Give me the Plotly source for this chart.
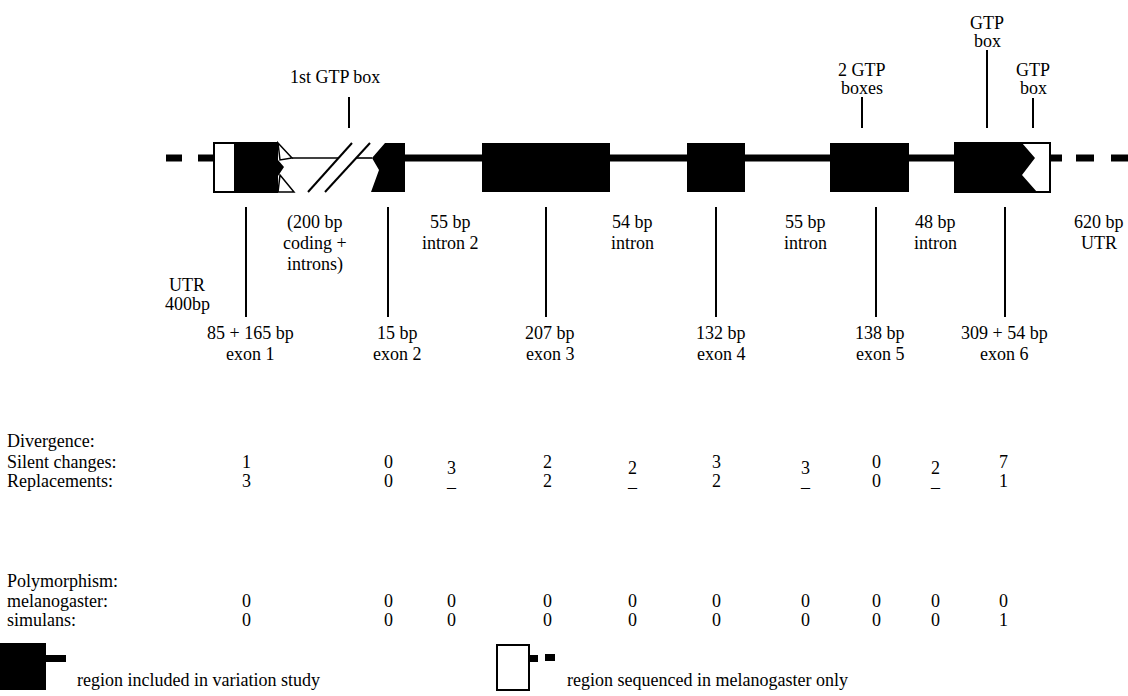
import plotly.graph_objects as go

W, H = 1128, 696
FONT = "Liberation Serif"
FS = 18

# ---------------- data ----------------
exon_labels = ["85 + 165 bp<br>exon 1", "15 bp<br>exon 2", "207 bp<br>exon 3",
               "132 bp<br>exon 4", "138 bp<br>exon 5", "309 + 54 bp<br>exon 6"]
intron_labels = ["(200 bp<br>coding +<br>introns)", "55 bp<br>intron 2", "54 bp<br>intron",
                 "55 bp<br>intron", "48 bp<br>intron", "620 bp<br>UTR"]
utr5_label = "UTR<br>400bp"
gtp_labels = ["1st GTP box", "2 GTP<br>boxes", "GTP<br>box", "GTP<br>box"]

# columns: exon1, exon2, intron2, exon3, intron3, exon4, intron4, exon5, intron5, exon6
col_is_intron = [False, False, True, False, True, False, True, False, True, False]
silent = ["1", "0", "3", "2", "2", "3", "3", "0", "2", "7"]
replacements = ["3", "0", "_", "2", "_", "2", "_", "0", "_", "1"]
poly_mel = ["0", "0", "0", "0", "0", "0", "0", "0", "0", "0"]
poly_sim = ["0", "0", "0", "0", "0", "0", "0", "0", "0", "1"]

row_titles = ["Divergence:", "Silent changes:", "Replacements:",
              "Polymorphism:", "melanogaster:", "simulans:"]
legend_texts = ["region included in variation study", "region sequenced in melanogaster only"]

# ---------------- layout geometry (diagram coordinates, px) ----------------
col_x = [246, 388, 451, 547, 632, 716, 805, 876, 935, 1003]
exon_tick_x = [246, 388, 546, 716, 876, 1005]
exon_label_x = [250, 397, 550, 721, 880, 1004]
intron_label_x = [315, 450, 632, 805, 935, 1099]
gtp_x = [335, 862, 987, 1033]
gtp_tick_x = [349, 862, 987, 1033]
gtp_tick_top = [97, 97, 50, 98]

YC = 158          # backbone center
TOP, BOT = 143, 192

fig = go.Figure()
shapes = []
K = "black"


def rect(x0, x1, y0, y1, fill=K, lw=0, lc=K):
    shapes.append(dict(type="rect", xref="x", yref="y", x0=x0, x1=x1, y0=y0, y1=y1,
                       fillcolor=fill, line=dict(color=lc, width=lw)))


def poly(pts, fill=K, lw=0, lc=K):
    p = "M " + " L ".join(f"{x},{y}" for x, y in pts) + " Z"
    shapes.append(dict(type="path", xref="x", yref="y", path=p,
                       fillcolor=fill, line=dict(color=lc, width=lw)))


def line(x0, y0, x1, y1, w=2):
    shapes.append(dict(type="line", xref="x", yref="y", x0=x0, y0=y0, x1=x1, y1=y1,
                       line=dict(color=K, width=w)))


def thick(x0, x1):
    rect(x0, x1, YC - 3.5, YC + 3.5)


# left dashes / UTR
thick(166, 182)
thick(198, 214)
# exon 1 : white UTR part + black coding part + arrow-like end
rect(214, 235, TOP, BOT, fill="white", lw=2)
poly([(235, TOP), (278, TOP), (278, 160), (284, 167), (278, 176), (278, BOT), (235, BOT)])
poly([(278, TOP), (292, YC), (280, 160)], fill="white", lw=1.5)
poly([(280, 175), (294, BOT), (278, BOT)], fill="white", lw=1.5)
line(232, TOP, 278, TOP, 2)
line(232, BOT, 278, BOT, 2)
# thin line with break slashes
line(292, YC, 338, YC, 1.6)
line(356, YC, 372, YC, 1.6)
line(308, BOT, 352, TOP, 2)
line(325, BOT, 370, TOP, 2)
# exon 2
poly([(385, TOP), (405, TOP), (405, BOT), (371, BOT), (379, 170), (372, YC)])
thick(405, 482)
rect(482, 610, TOP, BOT)
thick(610, 687)
rect(687, 745, TOP, BOT)
thick(745, 830)
rect(830, 909, TOP, BOT)
thick(909, 955)
# exon 6
rect(955, 1050, TOP, BOT, fill="white", lw=2)
poly([(955, TOP), (1022, TOP), (1035, YC), (1022, 175), (1037, BOT), (955, BOT)])
thick(1050, 1062)
thick(1076, 1094)
thick(1111, 1128)

# ticks above (GTP boxes)
for x, t in zip(gtp_tick_x, gtp_tick_top):
    line(x, t, x, 128, 2)
# ticks below (exons)
for x in exon_tick_x:
    line(x, 207, x, 317, 2)

# legend glyphs
rect(0, 46, 643, 690)
rect(46, 66, 655, 662)
rect(497, 529, 645, 690, fill="white", lw=2)
rect(529, 538, 655, 662)
rect(545, 555, 654, 661)

annotations = []


def txt(x, y, s, anchor="center", size=FS):
    annotations.append(dict(x=x, y=y, xref="x", yref="y", text=s, showarrow=False,
                            xanchor=anchor, yanchor="middle", align="center",
                            font=dict(family=FONT, size=size, color=K)))


def txt_lines(x, y0, s, dy=21):
    for i, part in enumerate(s.split("<br>")):
        txt(x, y0 + i * dy, part)


# top labels
txt(gtp_x[0], 77, gtp_labels[0])
txt_lines(gtp_x[1], 70, gtp_labels[1], 18)
txt_lines(gtp_x[2], 23, gtp_labels[2], 18)
txt_lines(gtp_x[3], 70, gtp_labels[3], 18)

# bottom labels
for x, s in zip(intron_label_x, intron_labels):
    txt_lines(x, 222, s)
for x, s in zip(exon_label_x, exon_labels):
    txt_lines(x, 333, s)
txt_lines(187, 285, utr5_label, 19)

# table
row_y = [441, 462, 481, 581, 601, 620]
for t, y in zip(row_titles, row_y):
    txt(5, y, t, anchor="left")
for i, x in enumerate(col_x):
    off = 6 if col_is_intron[i] else 0
    txt(x, row_y[1] + off, silent[i])
    rv = replacements[i]
    txt(x, row_y[2], rv)
    txt(x, row_y[4], poly_mel[i])
    txt(x, row_y[5], poly_sim[i])

# legend texts
txt(75, 680, legend_texts[0], anchor="left")
txt(565, 680, legend_texts[1], anchor="left")

fig.update_layout(
    width=W, height=H,
    margin=dict(l=0, r=0, t=0, b=0),
    paper_bgcolor="white", plot_bgcolor="white",
    xaxis=dict(range=[0, W], visible=False, fixedrange=True),
    yaxis=dict(range=[H, 0], visible=False, fixedrange=True),
    shapes=shapes, annotations=annotations, showlegend=False,
)
fig.add_trace(go.Scatter(x=[0, W], y=[0, H], mode="markers", marker=dict(opacity=0),
                         hoverinfo="skip"))
fig.write_html("out.html", config={"displayModeBar": False},
               post_script="document.body.style.margin='0';document.body.style.overflow='hidden';")
